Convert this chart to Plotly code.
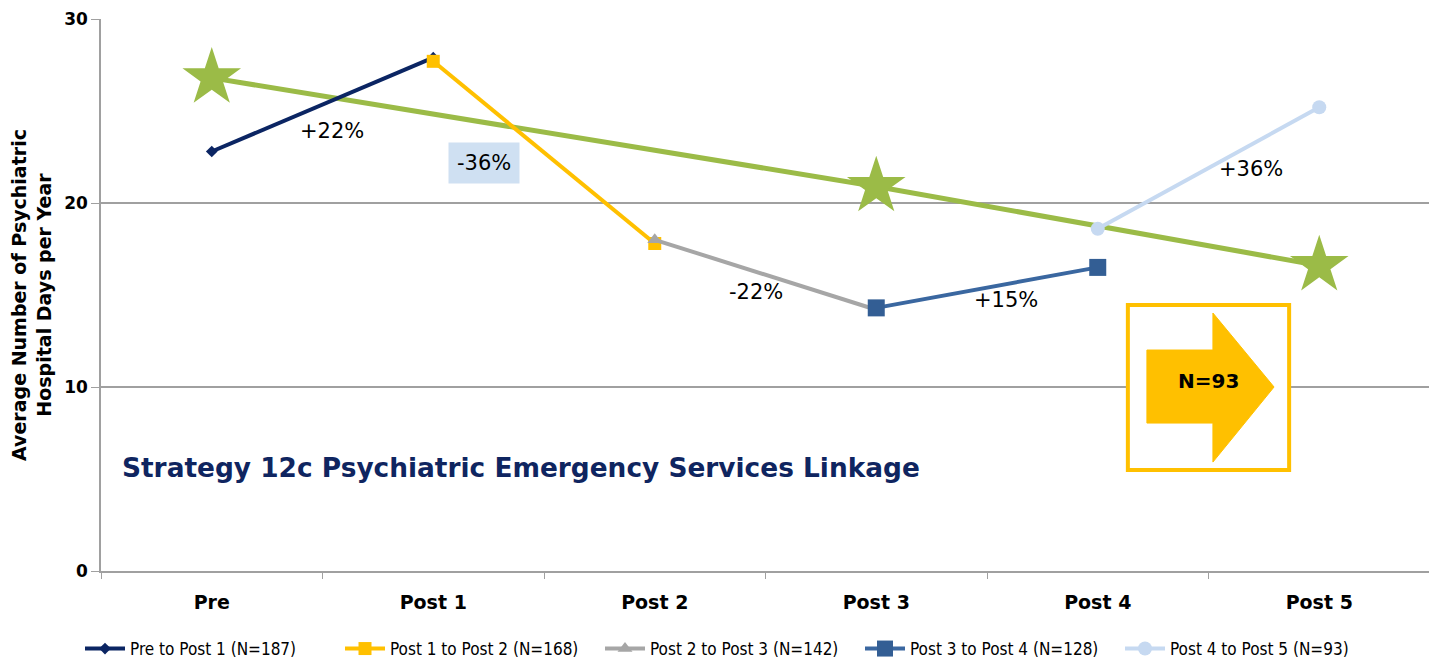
import plotly.graph_objects as go

categories = ["Pre", "Post 1", "Post 2", "Post 3", "Post 4", "Post 5"]

series_names = [
    "Pre to Post 1 (N=187)",
    "Post 1 to Post 2 (N=168)",
    "Post 2 to Post 3 (N=142)",
    "Post 3 to Post 4 (N=128)",
    "Post 4 to Post 5 (N=93)",
]
s1_x = ["Pre", "Post 1"]
s1_y = [22.8, 27.9]
s2_x = ["Post 1", "Post 2"]
s2_y = [27.7, 17.8]
s3_x = ["Post 2", "Post 3"]
s3_y = [18.0, 14.2]
s4_x = ["Post 3", "Post 4"]
s4_y = [14.3, 16.5]
s5_x = ["Post 4", "Post 5"]
s5_y = [18.6, 25.2]

trend_x = ["Pre", "Post 3", "Post 5"]
trend_y = [26.8, 20.9, 16.6]

pct_labels = ["+22%", "-36%", "-22%", "+15%", "+36%"]
pct_x = [0.543, 1.231, 2.457, 3.584, 4.692]
pct_y = [23.9, 22.17, 15.16, 14.73, 21.85]

colors = ["#0B2563", "#FFC000", "#A6A6A6", "#3A67A0", "#C6D9F1"]
symbols = ["diamond", "square", "triangle-up", "square", "circle"]
msizes = [9, 13, 13, 17, 14]
mcolors = ["#0B2563", "#FFC000", "#A6A6A6", "#335E94", "#C6D9F1"]

FONT = "DejaVu Sans, Verdana, sans-serif"

fig = go.Figure()
xs = [s1_x, s2_x, s3_x, s4_x, s5_x]
ys = [s1_y, s2_y, s3_y, s4_y, s5_y]

# trend line with stars (drawn first)
fig.add_trace(go.Scatter(
    x=trend_x, y=trend_y, mode="lines+markers", showlegend=False,
    line=dict(color="#9BBB47", width=5),
    marker=dict(symbol="star", size=44, color="#9BBB47"),
))

for i in range(5):
    fig.add_trace(go.Scatter(
        x=xs[i], y=ys[i], mode="lines+markers", name=series_names[i],
        line=dict(color=colors[i], width=4),
        marker=dict(symbol=symbols[i], size=msizes[i], color=mcolors[i]),
    ))

for i, t in enumerate(pct_labels):
    ann = dict(x=pct_x[i], y=pct_y[i], xref="x", yref="y", text=t, showarrow=False,
               font=dict(family=FONT, size=21, color="#000000"))
    if t == "-36%":
        ann.update(bgcolor="#CFE0F2", borderpad=8)
    fig.add_annotation(**ann)

fig.add_annotation(x=-0.416, y=5.6, xref="x", yref="y", xanchor="left",
                   text="<b>Strategy 12c Psychiatric Emergency Services Linkage</b>",
                   showarrow=False,
                   font=dict(family=FONT, size=26.4, color="#0F2560"))

# N=93 box and arrow
fig.add_shape(type="rect", xref="x", yref="y", x0=4.136, x1=4.864, y0=5.49, y1=14.46,
              line=dict(color="#FFC000", width=4), fillcolor="rgba(255,255,255,1)", layer="above")
fig.add_shape(type="path", xref="x", yref="y",
              path="M 4.222,12.01 L 4.520,12.01 L 4.520,14.02 L 4.796,10.0 L 4.520,5.92 L 4.520,8.04 L 4.222,8.04 Z",
              fillcolor="#FFC000", line=dict(color="#FFC000", width=1), layer="above")
fig.add_annotation(x=4.498, y=10.33, xref="x", yref="y", text="<b>N=93</b>", showarrow=False,
                   font=dict(family=FONT, size=20, color="#000000"))

W, H = 1429, 653  # page body has an 8px margin
fig.update_layout(
    width=W, height=H,
    margin=dict(l=93, r=7, t=11, b=90, autoexpand=False),
    paper_bgcolor="white", plot_bgcolor="white",
    font=dict(family=FONT, color="#000000"),
    legend=dict(orientation="h", x=72 / W, xanchor="left", xref="container",
                y=1 - 641 / H, yanchor="middle", yref="container",
                font=dict(family="Liberation Sans Narrow, Arial Narrow, DejaVu Sans Condensed, sans-serif", size=17),
                itemwidth=40, tracegroupgap=0, entrywidth=205, entrywidthmode="pixels"),
    xaxis=dict(type="category", categoryorder="array", categoryarray=categories,
               range=[-0.5, 5.5], showgrid=False, showline=True, linecolor="#A0A0A0", linewidth=1.5,
               ticks="outside", tickson="boundaries", ticklen=6, tickcolor="#A0A0A0",
               tickfont=dict(family=FONT, size=19, color="#000000", weight="bold"),
               ticklabelstandoff=13, automargin=False),
    yaxis=dict(range=[0, 30], tickvals=[0, 10, 20, 30], showgrid=True, gridcolor="#A0A0A0", gridwidth=1.5,
               showline=True, linecolor="#A0A0A0", linewidth=1.5, zeroline=False,
               ticks="outside", ticklen=8, tickcolor="#A0A0A0",
               tickfont=dict(family=FONT, size=17, color="#000000", weight="bold"),
               automargin=False,
               title=dict(text="<b>Average Number of Psychiatric<br>Hospital Days per Year</b>",
                          font=dict(family=FONT, size=19, color="#000000"),
                          standoff=12)),
)

fig.write_html("out.html")
